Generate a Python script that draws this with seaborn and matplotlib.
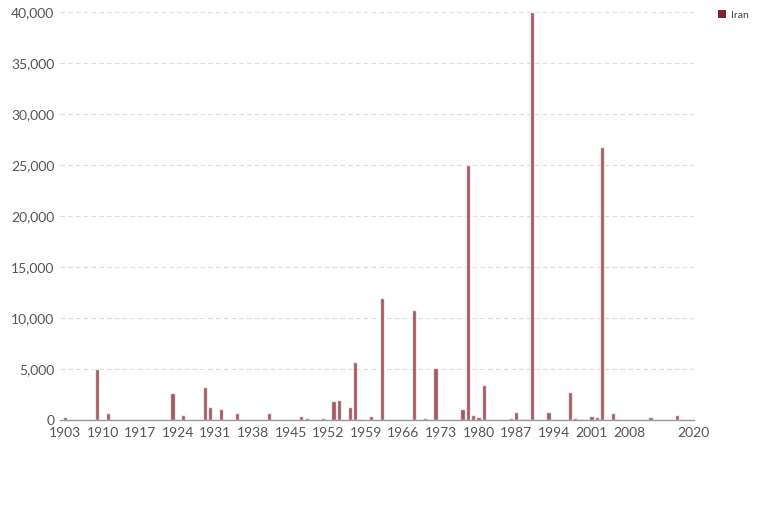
import matplotlib
matplotlib.use("Agg")
import matplotlib.pyplot as plt
import seaborn as sns
import pandas as pd
from matplotlib.patches import Patch
from matplotlib.ticker import FuncFormatter, MultipleLocator

years = [1903, 1909, 1911, 1923, 1925, 1929, 1930, 1932, 1935, 1941,
         1947, 1948, 1950, 1951, 1953, 1954, 1956, 1957, 1958, 1960,
         1962, 1968, 1970, 1972, 1977, 1978, 1979, 1980, 1981, 1986,
         1987, 1988, 1989, 1990, 1991, 1992, 1993, 1997, 1998, 1999,
         2001, 2002, 2003, 2005, 2006, 2012, 2017, 2019]
deaths = [300, 5000, 660, 2630, 450, 3220, 1320, 1030, 720, 690,
          360, 170, 30, 200, 1840, 1970, 1320, 5660, 140, 430,
          12000, 10800, 170, 5100, 1080, 25000, 490, 270, 3420, 200,
          820, 60, 60, 40000, 30, 30, 790, 2760, 160, 50,
          430, 260, 26800, 690, 50, 260, 460, 30]
series_name = "Iran"
x_ticks = [1903, 1910, 1917, 1924, 1931, 1938, 1945, 1952, 1959, 1966,
           1973, 1980, 1987, 1994, 2001, 2008, 2020]

df = pd.DataFrame({"year": years, "deaths": deaths})

sns.set_style("white")
plt.rcParams["font.family"] = ["Lato", "DejaVu Sans"]

fig = plt.figure(figsize=(7.57, 5.21), dpi=100)
ax = fig.add_axes([60 / 757, 1 - 420 / 521, (694 - 60) / 757, (420 - 12) / 521])

base = "#80242f"
sns.barplot(data=df, x="year", y="deaths", native_scale=True, width=0.8,
            color=base, alpha=0.75, saturation=1, ax=ax, errorbar=None)

ax.set_xlim(1902.07, 2020.1)
ax.set_ylim(0, 40000)
ax.set_xticks(x_ticks)
ax.set_xticklabels([str(t) for t in x_ticks])
ax.yaxis.set_major_locator(MultipleLocator(5000))
ax.yaxis.set_major_formatter(FuncFormatter(lambda v, p: f"{int(v):,}"))

ax.grid(axis="y", color="#dddddd", linestyle=(0, (4, 3)), linewidth=0.8)
ax.set_axisbelow(True)
for s in ["top", "right", "left"]:
    ax.spines[s].set_visible(False)
ax.spines["bottom"].set_color("#999999")
ax.spines["bottom"].set_linewidth(1)

ax.tick_params(axis="x", length=5, width=1, color="#999999", labelsize=10,
               labelcolor="#555555", pad=0, direction="out")
ax.tick_params(axis="y", length=0, labelsize=10, labelcolor="#555555", pad=4)
ax.set_xlabel("")
ax.set_ylabel("")

fig.legend(handles=[Patch(facecolor=base, edgecolor="none", label=series_name)],
           loc="upper left", bbox_to_anchor=(709 / 757, 1 - 1 / 521),
           frameon=False, fontsize=7.5, handlelength=0.75, handleheight=0.75,
           handletextpad=0.5, labelcolor="#444444")

fig.savefig("out.png", dpi=100)
